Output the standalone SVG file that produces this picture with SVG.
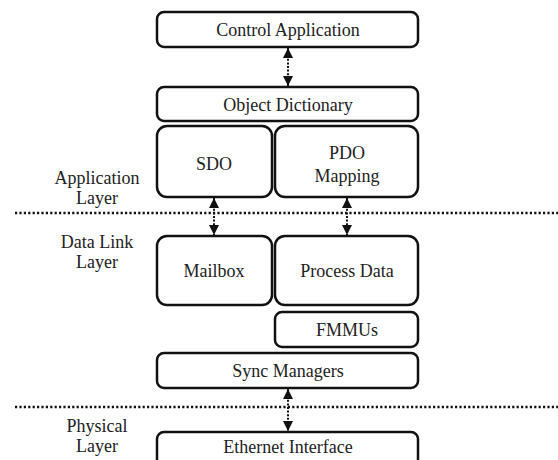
<svg xmlns="http://www.w3.org/2000/svg" width="558" height="460" viewBox="0 0 558 460">
<style>
.box{fill:#fff;stroke:#111;stroke-width:2.5}
text{font-family:'Liberation Serif','Times New Roman',serif;font-size:18px;fill:#222;text-anchor:middle}
.sep{stroke:#111;stroke-width:2.5;stroke-dasharray:2.2 2.2;fill:none}
.con{stroke:#111;stroke-width:2;stroke-dasharray:2 1.6;fill:none}
</style>
<defs>
<marker id="ah" viewBox="0 0 10 10" refX="10" refY="5" markerWidth="10" markerHeight="10" markerUnits="userSpaceOnUse" orient="auto-start-reverse">
<path d="M0,0 L10,5 L0,10 Z" fill="#111"/>
</marker>
</defs>
<rect width="558" height="460" fill="#fff"/>
<g id="separators">
<line class="sep" x1="15" y1="213" x2="558" y2="213"/>
<line class="sep" x1="15" y1="407" x2="558" y2="407"/>
</g>
<g id="layer-labels">
<text x="97" y="184">Application</text>
<text x="97" y="204">Layer</text>
<text x="97" y="248">Data Link</text>
<text x="97" y="268">Layer</text>
<text x="97" y="432">Physical</text>
<text x="97" y="452">Layer</text>
</g>
<g id="control-application">
<rect class="box" x="157" y="12" width="261" height="35" rx="7"/>
<text x="288" y="36">Control Application</text>
</g>
<g id="object-dictionary">
<rect class="box" x="157" y="87" width="261" height="34" rx="7"/>
<text x="288" y="111">Object Dictionary</text>
</g>
<g id="sdo">
<rect class="box" x="157" y="126" width="115" height="71" rx="10"/>
<text x="214" y="170">SDO</text>
</g>
<g id="pdo-mapping">
<rect class="box" x="275" y="126" width="143" height="71" rx="10"/>
<text x="347" y="159">PDO</text>
<text x="347" y="182">Mapping</text>
</g>
<g id="mailbox">
<rect class="box" x="157" y="236" width="115" height="69" rx="10"/>
<text x="214" y="277">Mailbox</text>
</g>
<g id="process-data">
<rect class="box" x="275" y="236" width="143" height="69" rx="10"/>
<text x="347" y="277">Process Data</text>
</g>
<g id="fmmus">
<rect class="box" x="275" y="312" width="143" height="35" rx="7"/>
<text x="347" y="336">FMMUs</text>
</g>
<g id="sync-managers">
<rect class="box" x="157" y="353" width="261" height="35" rx="7"/>
<text x="288" y="377">Sync Managers</text>
</g>
<g id="ethernet-interface">
<rect class="box" x="157" y="432" width="261" height="34" rx="7"/>
<text x="288" y="453">Ethernet Interface</text>
</g>
<g id="connectors">
<line class="con" x1="288" y1="48" x2="288" y2="86" marker-start="url(#ah)" marker-end="url(#ah)"/>
<line class="con" x1="214" y1="198" x2="214" y2="235" marker-start="url(#ah)" marker-end="url(#ah)"/>
<line class="con" x1="347" y1="198" x2="347" y2="235" marker-start="url(#ah)" marker-end="url(#ah)"/>
<line class="con" x1="288" y1="389" x2="288" y2="431" marker-start="url(#ah)" marker-end="url(#ah)"/>
</g>
</svg>
